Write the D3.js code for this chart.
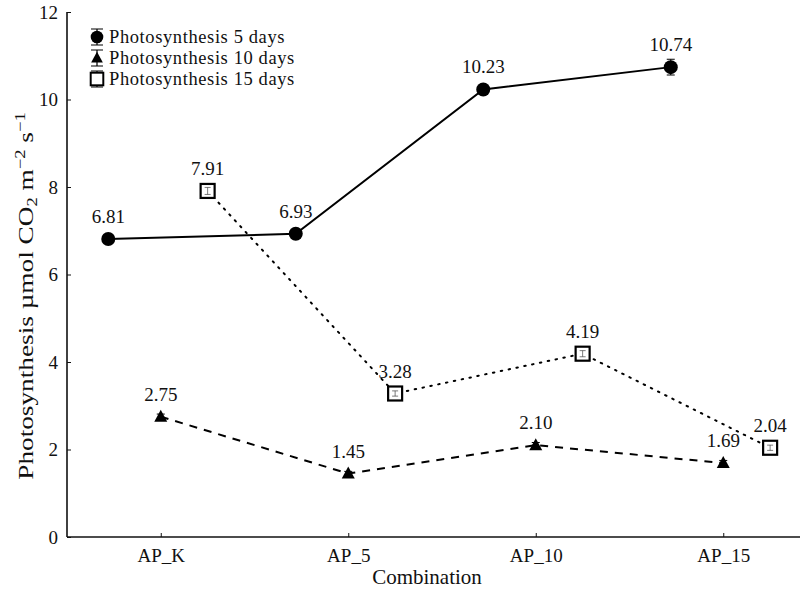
<!DOCTYPE html>
<html>
<head>
<meta charset="utf-8">
<script src="https://cdn.jsdelivr.net/npm/d3@7"></script>
<style>
  body { margin: 0; background: #fff; }
</style>
</head>
<body>
<svg id="chart" width="800" height="591"></svg>
<script>
// ── Data ──────────────────────────────────────────────────
const categories = ['AP_K', 'AP_5', 'AP_10', 'AP_15'];
const yTicks = [0, 2, 4, 6, 8, 10, 12];
const seriesNames = ['Photosynthesis 5 days', 'Photosynthesis 10 days', 'Photosynthesis 15 days'];
const days5  = [6.81, 6.93, 10.23, 10.74];
const days10 = [2.75, 1.45, 2.10, 1.69];
const days15 = [7.91, 3.28, 4.19, 2.04];
const err5  = [0.10, 0.08, 0.08, 0.18];
const err10 = [0.06, 0.05, 0.06, 0.06];
const err15 = [0.08, 0.06, 0.07, 0.06];

const FONT = "'Liberation Serif', 'Times New Roman', serif";

// per-series drawing style (dodge in category units)
const STYLES = [
  { values: days5,  err: err5,  shape: 'circle',   dash: null,      dodge: -0.28 },
  { values: days10, err: err10, shape: 'triangle', dash: '8,7',     dodge: 0 },
  { values: days15, err: err15, shape: 'square',   dash: '1.5,6.5', dodge: 0.25 },
];

const svg = d3.select('#chart');

const x = d3.scaleLinear().domain([0.5, 4.5]).range([67, 817]);
const y = d3.scaleLinear().domain([0, 12]).range([537, 12]);

// ── Axes ──────────────────────────────────────────────────
const yAxis = d3.axisLeft(y).tickValues(yTicks).tickSize(-4).tickPadding(9).tickFormat(d3.format('d'));
const gy = svg.append('g').attr('transform', 'translate(67,0)').call(yAxis);
gy.select('.domain').attr('stroke', '#111').attr('stroke-width', 1.6).attr('d', 'M0,12V537');
gy.selectAll('.tick line').attr('stroke', '#111');
gy.selectAll('.tick text').style('font-family', FONT).style('font-size', '19px').attr('fill', '#111');

const xAxis = d3.axisBottom(x).tickValues([1, 2, 3, 4]).tickSize(-4).tickPadding(12)
  .tickFormat((d, i) => categories[i]);
const gx = svg.append('g').attr('transform', 'translate(0,537)').call(xAxis);
gx.select('.domain').attr('stroke', '#111').attr('stroke-width', 1.6).attr('d', 'M67,0H800');
gx.selectAll('.tick line').attr('stroke', '#111');
gx.selectAll('.tick text').style('font-family', FONT).style('font-size', '19px').attr('fill', '#111');

// axis titles
svg.append('text')
  .attr('x', 427).attr('y', 584)
  .attr('text-anchor', 'middle')
  .style('font-family', FONT).style('font-size', '21px')
  .attr('fill', '#111')
  .text('Combination');

const yTitle = svg.append('text')
  .attr('transform', 'translate(33,296) rotate(-90) scale(1.24,1)')
  .attr('text-anchor', 'middle')
  .style('font-family', FONT).style('font-size', '22px')
  .attr('fill', '#111');
yTitle.append('tspan').text('Photosynthesis µmol CO');
yTitle.append('tspan').style('font-size', '15px').attr('dy', 4).text('2');
yTitle.append('tspan').attr('dy', -4).text(' m');
yTitle.append('tspan').style('font-size', '15px').attr('dy', -8).text('−2');
yTitle.append('tspan').attr('dy', 8).text(' s');
yTitle.append('tspan').style('font-size', '15px').attr('dy', -8).text('−1');

// ── Markers ───────────────────────────────────────────────
function drawMarker(g, shape) {
  if (shape === 'circle') {
    g.append('circle').attr('r', 7).attr('fill', '#000');
  } else if (shape === 'triangle') {
    g.append('path').attr('d', 'M0,-7L6.5,5H-6.5Z').attr('fill', '#000');
  } else {
    g.append('rect').attr('x', -7).attr('y', -7).attr('width', 14).attr('height', 14)
      .attr('fill', '#fff').attr('stroke', '#000').attr('stroke-width', 2.2);
  }
}

const plot = svg.append('g');

STYLES.forEach(s => {
  const pts = s.values.map((v, i) => ({ v, e: s.err[i], cx: x(i + 1 + s.dodge), cy: y(v) }));

  plot.append('path')
    .datum(pts)
    .attr('fill', 'none')
    .attr('stroke', '#000')
    .attr('stroke-width', 2)
    .attr('stroke-linecap', s.shape === 'square' ? 'round' : 'butt')
    .attr('stroke-dasharray', s.dash)
    .attr('d', d3.line().x(d => d.cx).y(d => d.cy));

  const g = plot.selectAll(null).data(pts).enter().append('g')
    .attr('transform', d => `translate(${d.cx},${d.cy})`);

  // error bars
  const errPath = d => {
    const t = y(d.v + d.e) - d.cy, b = y(d.v - d.e) - d.cy;
    return `M-4,${t}H4M0,${t}V${b}M-4,${b}H4`;
  };
  g.append('path').attr('d', errPath)
    .attr('stroke', '#000').attr('stroke-width', 1).attr('fill', 'none');

  g.each(function() { drawMarker(d3.select(this), s.shape); });
  if (s.shape === 'square') {
    g.append('path').attr('d', errPath)
      .attr('transform', 'scale(0.75,1)')
      .attr('stroke', '#444').attr('stroke-width', 0.8);
  }

  g.append('text')
    .attr('y', -16)
    .attr('text-anchor', 'middle')
    .style('font-family', FONT).style('font-size', '19px')
    .attr('fill', '#111')
    .text(d => d.v.toFixed(2));
});

// ── Legend ────────────────────────────────────────────────
const legend = svg.append('g');
STYLES.forEach((s, i) => {
  const row = legend.append('g').attr('transform', `translate(97,${37 + i * 21})`);
  row.append('path').attr('d', 'M-6,-8H6M0,-8V8M-6,8H6').attr('stroke', '#000').attr('stroke-width', 1.2);
  const m = row.append('g').attr('transform', 'scale(0.9)');
  drawMarker(m, s.shape);
  row.append('text')
    .attr('x', 12).attr('y', 6)
    .style('font-family', FONT).style('font-size', '18.5px').style('letter-spacing', '0.6px')
    .attr('fill', '#111')
    .text(seriesNames[i]);
});
</script>
</body>
</html>
